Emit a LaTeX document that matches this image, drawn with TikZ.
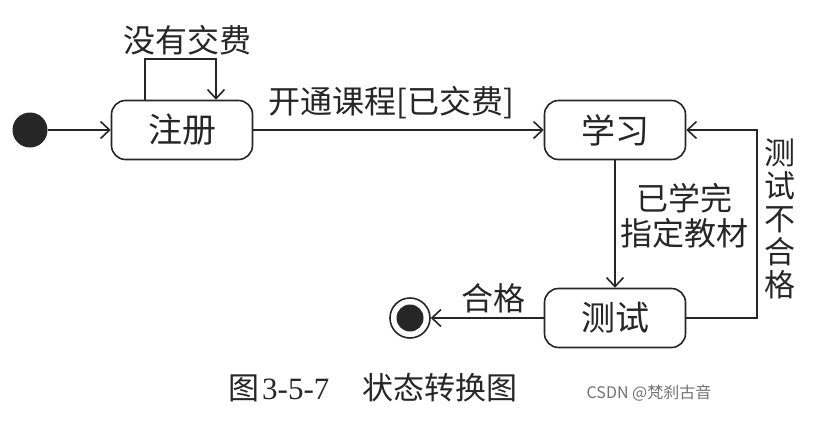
\documentclass[tikz,border=0pt]{standalone}
\usepackage{fontspec}
\setmainfont{Liberation Serif}
\newfontfamily\cjk{Noto Sans CJK SC}
\usetikzlibrary{arrows.meta,calc}
\begin{document}
\begin{tikzpicture}[x=1pt,y=-1pt,
  ln/.style={draw=black!85, line width=1.6pt},
  arr/.style={ln, -{Straight Barb[length=9pt,width=17pt,line width=1.6pt]}},
  state/.style={ln, rounded corners=14pt, minimum width=141pt, minimum height=59pt, inner sep=0pt, font=\cjk\fontsize{34}{36}\selectfont, text=black!85},
  lbl/.style={font=\cjk\fontsize{32}{35}\selectfont, text=black!85, inner sep=0pt, align=center}]
\useasboundingbox[fill=white] (0,0) rectangle (831,429);
% states
\node[circle, fill=black!85, minimum size=35pt, inner sep=0pt] (init) at (30,130) {};
\node[state] (reg) at (182,130) {注册};
\node[state] (learn) at (615,130) {学习};
\node[state] (test) at (615,318) {测试};
\node[circle, ln, minimum size=40pt, inner sep=0pt] (fin) at (410,318) {};
\node[circle, fill=black!85, minimum size=27pt, inner sep=0pt] (finin) at (fin) {};
% helper coordinates
\coordinate (l1) at (145,0);
\coordinate (l2) at (216,0);
\coordinate (ltop) at (0,59);
\coordinate (rl) at (757,0);
% connectors
\draw[arr] (init) -- (reg.west);
\draw[arr] (reg.north -| l1) -- (ltop -| l1) -- (ltop -| l2) -- (reg.north -| l2);
\draw[arr] (reg.east) -- (learn.west);
\draw[arr] (learn.south) -- (test.north);
\draw[arr] (test.east) -- (test.east -| rl) -- (learn.east -| rl) -- (learn.east);
\draw[arr] (test.west) -- (fin);
% labels
\node[lbl] (t1) at (187,40) {没有交费};
\node[lbl] (t2) at (391,103) {开通课程[已交费]};
\node[lbl] (t3) at (684,216) {已学完\\指定教材};
\node[lbl, font=\cjk\fontsize{31}{33}\selectfont] (t4) at (780,219) {测\\试\\不\\合\\格};
\node[lbl] (t5) at (493,298) {合格};
% caption
\node[lbl, anchor=west, font=\cjk\fontsize{31}{33}\selectfont] (c1) at (228,388) {图};
\node[font=\fontsize{31}{33}\selectfont, text=black!85, inner sep=0pt, anchor=west] (c2) at (262,389) {3-5-7};
\node[lbl, anchor=west, font=\cjk\fontsize{31}{33}\selectfont] (c3) at (362,388) {状态转换图};
\node[font=\cjk\fontsize{16}{18}\selectfont, text=black!55, inner sep=0pt] (wm) at (649,393) {CSDN @梵刹古音};
\end{tikzpicture}
\end{document}
